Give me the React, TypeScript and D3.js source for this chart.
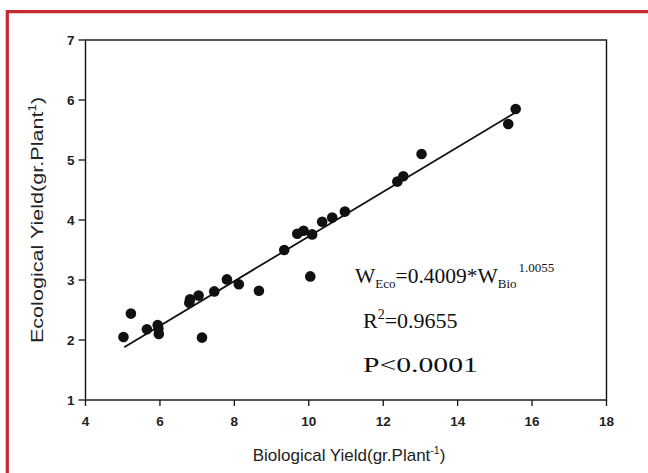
import React from "react";
import * as d3 from "d3";

const bioYield = [5.02, 5.22, 5.65, 5.94, 5.96, 5.97, 6.81, 6.79, 7.04, 7.13, 7.46, 7.8, 8.12, 8.66, 9.34, 10.04, 9.69, 9.86, 10.09, 10.36, 10.63, 10.97, 12.38, 12.54, 13.03, 15.36, 15.56];
const ecoYield = [2.05, 2.44, 2.18, 2.25, 2.19, 2.1, 2.68, 2.62, 2.74, 2.04, 2.81, 3.01, 2.93, 2.82, 3.5, 3.06, 3.77, 3.82, 3.76, 3.97, 4.04, 4.14, 4.64, 4.73, 5.1, 5.6, 5.85];
const fitBio = [5.04, 15.52];
const fitEco = [1.88, 5.78];
const xTicks = [4, 6, 8, 10, 12, 14, 16, 18];
const yTicks = [1, 2, 3, 4, 5, 6, 7];

export default function App() {
  const W = 648, H = 473;
  const x = d3.scaleLinear().domain([4, 18]).range([85.5, 606.5]);
  const y = d3.scaleLinear().domain([1, 7]).range([400, 40]);
  const line = d3.line<number>().x((d) => x(fitBio[d])).y((d) => y(fitEco[d]));
  const sans = "'Liberation Sans', Arial, sans-serif";
  const serif = "'Liberation Serif', 'Times New Roman', serif";
  const [x0, x1] = x.range();
  const [y0, y1] = y.range();
  return (
    <div style={{ position: "absolute", left: 0, top: 0 }}>
      <svg width={W} height={H} style={{ display: "block", background: "#fff" }}>
        <rect x={0} y={0} width={W} height={H} fill="#fff" />
        {/* red frame */}
        <line x1={7.3} y1={11.7} x2={W} y2={11.7} stroke="#c62a30" strokeWidth={3.2} />
        <line x1={7.3} y1={10.1} x2={7.3} y2={H} stroke="#c62a30" strokeWidth={3.2} />
        {/* plot box */}
        <rect x={x0} y={y1} width={x1 - x0} height={y0 - y1} fill="none" stroke="#111" strokeWidth={1.4} />
        {/* y ticks */}
        {yTicks.map((t) => (
          <g key={"y" + t}>
            <line x1={x0 - 7} x2={x0} y1={y(t)} y2={y(t)} stroke="#111" strokeWidth={1.3} />
            <text x={x0 - 11} y={y(t)} dy="0.35em" textAnchor="end" fontFamily={sans} fontSize={13.5} fontWeight="bold" fill="#222">
              {t}
            </text>
          </g>
        ))}
        {/* x ticks */}
        {xTicks.map((t) => (
          <g key={"x" + t}>
            <line x1={x(t)} x2={x(t)} y1={y0} y2={y0 + 6} stroke="#111" strokeWidth={1.3} />
            <text x={x(t)} y={426} textAnchor="middle" fontFamily={sans} fontSize={13.5} fontWeight="bold" fill="#222">
              {t}
            </text>
          </g>
        ))}
        {/* fit line */}
        <path d={line([0, 1]) || ""} fill="none" stroke="#111" strokeWidth={1.8} />
        {/* points */}
        {bioYield.map((b, i) => (
          <circle key={i} cx={x(b)} cy={y(ecoYield[i])} r={5.3} fill="#111" />
        ))}
        {/* axis titles */}
        <text x={349} y={461} textAnchor="middle" fontFamily={sans} fontSize={17} fill="#222">
          Biological Yield(gr.Plant
          <tspan fontSize={10.5} dy={-7}>-1</tspan>
          <tspan dy={7}>)</tspan>
        </text>
        <text transform="translate(43,220) rotate(-90) scale(1.27,1)" textAnchor="middle" fontFamily={sans} fontSize={17} fill="#222">
          Ecological Yield(gr.Plant
          <tspan fontSize={10.5} dy={-7}>1</tspan>
          <tspan dy={7}>)</tspan>
        </text>
        {/* annotation */}
        <text x={355} y={283} fontFamily={serif} fontSize={21.5} fill="#111">
          W
          <tspan fontSize={13} dy={5}>Eco</tspan>
          <tspan dy={-5}>=0.4009*W</tspan>
          <tspan fontSize={13} dy={5}>Bio</tspan>
          <tspan fontSize={13} dx={2} dy={-16}>1.0055</tspan>
        </text>
        <text x={363} y={328} fontFamily={serif} fontSize={22} fill="#111">
          R
          <tspan fontSize={14} dy={-9}>2</tspan>
          <tspan dy={9}>=0.9655</tspan>
        </text>
        <text transform="translate(363,372) scale(1.35,1)" fontFamily={serif} fontSize={22} fill="#111">
          P&lt;0.0001
        </text>
      </svg>
    </div>
  );
}
